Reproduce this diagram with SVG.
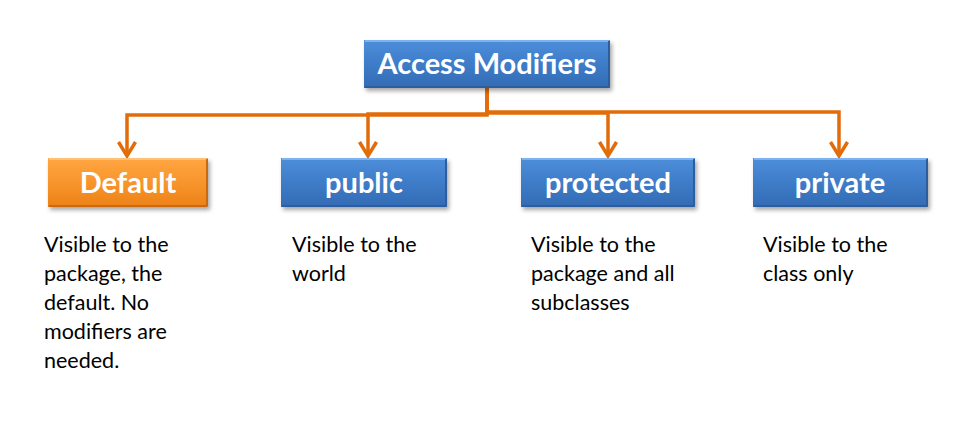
<svg xmlns="http://www.w3.org/2000/svg" width="960" height="434" viewBox="0 0 960 434">
<defs>
<style>
.lbl{font-family:Lato,"Liberation Sans",sans-serif;font-weight:bold;font-size:29px;fill:#ffffff;text-anchor:middle}
.desc{font-family:Lato,"Liberation Sans",sans-serif;font-size:21.5px;fill:#000000}
.conn{fill:none;stroke:#E36C0A;stroke-width:3.5}
.hi{fill:none;stroke-width:2}
</style>
<linearGradient id="gBlue" x1="0" y1="0" x2="0" y2="1">
<stop offset="0" stop-color="#4D8EDB"/>
<stop offset="0.5" stop-color="#3E7CC8"/>
<stop offset="1" stop-color="#336BB4"/>
</linearGradient>
<linearGradient id="gOrange" x1="0" y1="0" x2="0" y2="1">
<stop offset="0" stop-color="#FFA643"/>
<stop offset="0.5" stop-color="#F8952C"/>
<stop offset="1" stop-color="#EC8118"/>
</linearGradient>
<filter id="sh" x="-10%" y="-20%" width="125%" height="150%">
<feDropShadow dx="2" dy="3" stdDeviation="2" flood-color="#000" flood-opacity="0.35"/>
</filter>
<marker id="arr" markerUnits="userSpaceOnUse" viewBox="-16 -10 20 20" refX="0" refY="0" markerWidth="20" markerHeight="20" orient="auto">
<path d="M-14,-8.5 L0,0 L-14,8.5" fill="none" stroke="#E36C0A" stroke-width="3.5" stroke-linejoin="miter"/>
</marker>
</defs>
<rect width="960" height="434" fill="#ffffff"/>
<g id="connectors">
<path class="conn" d="M487,88 V115 H127 V156" marker-end="url(#arr)"/>
<path class="conn" d="M487,88 V114 H368 V156" marker-end="url(#arr)"/>
<path class="conn" d="M487,88 V113 H608 V156" marker-end="url(#arr)"/>
<path class="conn" d="M487,88 V112 H839 V156" marker-end="url(#arr)"/>
</g>
<g id="access-modifiers">
<rect x="364" y="40" width="246" height="48" fill="url(#gBlue)" filter="url(#sh)"/>
<path class="hi" d="M365,41 H609" stroke="#7FB2EE"/>
<path class="hi" d="M365,87 H609 M609,41 V87" stroke="#2C5D9E"/>
<text class="lbl" x="487" y="74">Access Modifiers</text>
</g>
<g id="default">
<rect x="48" y="158" width="160" height="49" fill="url(#gOrange)" filter="url(#sh)"/>
<path class="hi" d="M49,159 H207" stroke="#FFC27A"/>
<path class="hi" d="M49,206 H207 M207,159 V206" stroke="#C96A10"/>
<text class="lbl" x="128" y="193">Default</text>
<text class="desc" x="44" y="252">Visible to the</text>
<text class="desc" x="44" y="281">package, the</text>
<text class="desc" x="44" y="310">default. No</text>
<text class="desc" x="44" y="339">modifiers are</text>
<text class="desc" x="44" y="368">needed.</text>
</g>
<g id="public">
<rect x="281" y="158" width="166" height="49" fill="url(#gBlue)" filter="url(#sh)"/>
<path class="hi" d="M282,159 H446" stroke="#7FB2EE"/>
<path class="hi" d="M282,206 H446 M446,159 V206" stroke="#2C5D9E"/>
<text class="lbl" x="364" y="193">public</text>
<text class="desc" x="292" y="252">Visible to the</text>
<text class="desc" x="292" y="281">world</text>
</g>
<g id="protected">
<rect x="521" y="158" width="174" height="49" fill="url(#gBlue)" filter="url(#sh)"/>
<path class="hi" d="M522,159 H694" stroke="#7FB2EE"/>
<path class="hi" d="M522,206 H694 M694,159 V206" stroke="#2C5D9E"/>
<text class="lbl" x="608" y="193">protected</text>
<text class="desc" x="531" y="252">Visible to the</text>
<text class="desc" x="531" y="281">package and all</text>
<text class="desc" x="531" y="310">subclasses</text>
</g>
<g id="private">
<rect x="753" y="158" width="175" height="49" fill="url(#gBlue)" filter="url(#sh)"/>
<path class="hi" d="M754,159 H927" stroke="#7FB2EE"/>
<path class="hi" d="M754,206 H927 M927,159 V206" stroke="#2C5D9E"/>
<text class="lbl" x="840" y="193">private</text>
<text class="desc" x="763" y="252">Visible to the</text>
<text class="desc" x="763" y="281">class only</text>
</g>
</svg>
